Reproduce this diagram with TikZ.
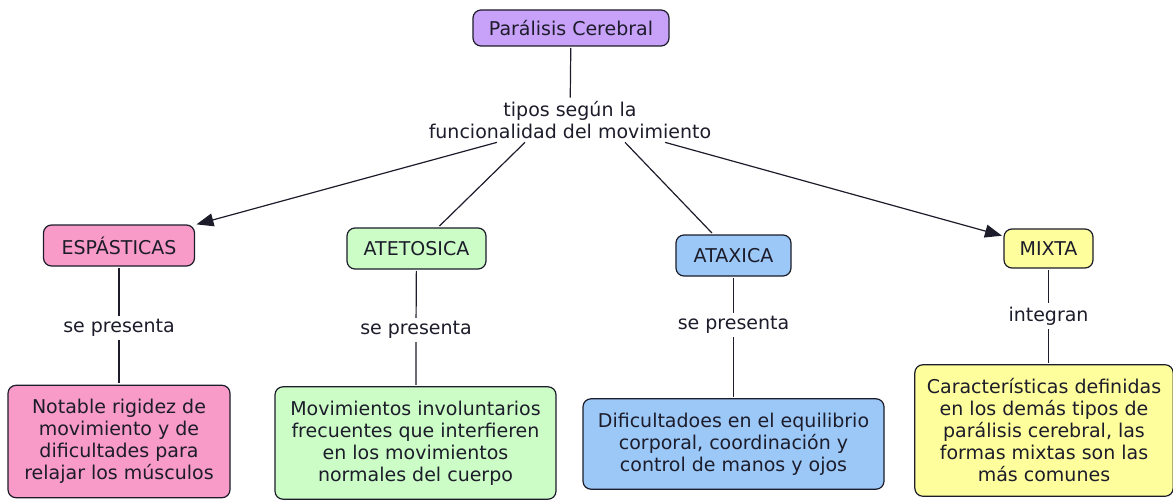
\documentclass[tikz,border=0pt]{standalone}
\usepackage{fontspec}
\setmainfont{DejaVu Sans}
\usetikzlibrary{arrows.meta,positioning}
\definecolor{lila}{HTML}{C8A2F8}
\definecolor{rosa}{HTML}{F89BC8}
\definecolor{verde}{HTML}{CCFDC6}
\definecolor{celeste}{HTML}{9CC8F8}
\definecolor{amarillo}{HTML}{FEFE9C}
\definecolor{tinta}{HTML}{1C1C2A}
\tikzstyle{concept}=[draw=tinta, line width=1.2pt, rounded corners=8pt, align=center, inner xsep=12pt, inner ysep=8pt, minimum height=41pt, outer sep=2pt]
\tikzstyle{body}=[concept, inner ysep=14pt]
\tikzstyle{linkword}=[align=center, inner sep=3pt]
\tikzstyle{every node}=[font=\fontsize{19}{22}\selectfont, text=tinta]
\newcommand{\conceptnode}[5][]{\node[concept, fill=#4, #1] (#2) at (#3) {#5};}
\newcommand{\linknode}[3]{\node[linkword] (#1) at (#2) {#3};}

\begin{document}
\begin{tikzpicture}[x=1pt, y=-1pt, line width=1.2pt, draw=tinta]
\useasboundingbox (0,0) rectangle (1173,500);
\conceptnode[minimum height=36pt, minimum width=196pt]{pc}{571,28}{lila}{Parálisis Cerebral}
\linknode{tipos}{570,120}{tipos según la\\funcionalidad del movimiento}

\conceptnode[minimum width=151pt]{esp}{119,245.5}{rosa}{ESPÁSTICAS}
\conceptnode[minimum width=139pt]{ate}{416.5,248.5}{verde}{ATETOSICA}
\conceptnode[minimum width=115pt]{ata}{733.5,255.5}{celeste}{ATAXICA}
\conceptnode[minimum width=89pt, minimum height=39pt]{mix}{1048.5,248.5}{amarillo}{MIXTA}

\linknode{esplink}{119,328}{se presenta}
\linknode{atelink}{416,330}{se presenta}
\linknode{atalink}{733.5,325}{se presenta}
\linknode{mixlink}{1048.5,316}{integran}

\conceptnode[body, minimum width=222pt]{espdesc}{119,441.5}{rosa}{Notable rigidez de\\movimiento y de\\dificultades para\\relajar los músculos}
\conceptnode[body, minimum width=281pt]{atedesc}{415.5,443}{verde}{Movimientos involuntarios\\frecuentes que interfieren\\en los movimientos\\normales del cuerpo}
\conceptnode[body, minimum width=301pt]{atadesc}{733.5,444}{celeste}{Dificultadoes en el equilibrio\\corporal, coordinación y\\control de manos y ojos}
\conceptnode[body, minimum width=252pt]{mixdesc}{1044,430.5}{amarillo}{Características definidas\\en los demás tipos de\\parálisis cerebral, las\\formas mixtas son las\\más comunes}

\draw (pc) -- (tipos);
\draw ([xshift=-73pt]tipos.south) edge [-{Triangle[length=17pt,width=13pt]}] (esp);
\draw ([xshift=-45pt]tipos.south) -- (ate);
\draw ([xshift=55pt]tipos.south) -- (ata);
\draw ([xshift=95pt]tipos.south) edge [-{Triangle[length=17pt,width=13pt]}] (mix);

\draw (esp) -- (esplink) -- (esplink |- espdesc.north);
\draw (ate) -- (atelink) -- (atelink |- atedesc.north);
\draw (ata) -- (atalink) -- (atalink |- atadesc.north);
\draw (mix) -- (mixlink) -- (mixlink |- mixdesc.north);
\end{tikzpicture}
\end{document}
